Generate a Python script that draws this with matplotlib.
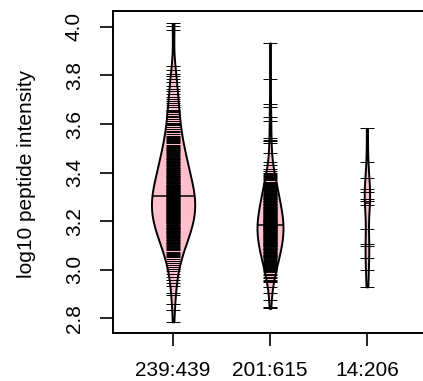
import numpy as np
import matplotlib
matplotlib.use('Agg')
import matplotlib.pyplot as plt

plt.rcParams['font.family'] = ['Liberation Sans', 'DejaVu Sans']

# bean labels: "observed:total"
labels = ['239:439', '201:615', '14:206']
totals = [439, 615, 206]

# log10 peptide intensities
g1 = [4.014, 4.003, 3.987,
      3.838, 3.822, 3.806,
      3.797, 3.784, 3.771, 3.758,
      3.746, 3.737, 3.724, 3.713, 3.702,
      3.696, 3.688, 3.679, 3.668, 3.659, 3.652,
      3.648, 3.641, 3.633, 3.627, 3.619, 3.612, 3.606, 3.601,
      3.596, 3.588, 3.580, 3.572, 3.566, 3.559, 3.552,
      3.548, 3.543, 3.538, 3.534, 3.529, 3.524, 3.520, 3.515, 3.510, 3.506,
      3.502,
      3.498, 3.494, 3.491, 3.487, 3.484, 3.480, 3.476, 3.473, 3.469, 3.466,
      3.462, 3.458, 3.455, 3.451,
      3.448, 3.445, 3.442, 3.439, 3.436, 3.433, 3.430, 3.427, 3.424, 3.421,
      3.418, 3.415, 3.412, 3.409, 3.406, 3.403, 3.401,
      3.399, 3.396, 3.394, 3.391, 3.388, 3.386, 3.383, 3.380, 3.378, 3.375,
      3.372, 3.370, 3.367, 3.364, 3.362, 3.359, 3.356, 3.354, 3.351,
      3.349, 3.347, 3.345, 3.343, 3.341, 3.339, 3.337, 3.335, 3.333, 3.331,
      3.329, 3.327, 3.325, 3.323, 3.321, 3.319, 3.317, 3.315, 3.313, 3.311,
      3.309, 3.307, 3.305, 3.303, 3.301,
      3.299, 3.297, 3.295, 3.293, 3.291, 3.289, 3.287, 3.285, 3.283, 3.281,
      3.279, 3.277, 3.275, 3.273, 3.271, 3.269, 3.267, 3.265, 3.263, 3.261,
      3.259, 3.257, 3.255, 3.253, 3.252, 3.250,
      3.249, 3.247, 3.245, 3.243, 3.241, 3.239, 3.237, 3.235, 3.233, 3.231,
      3.229, 3.227, 3.225, 3.223, 3.221, 3.219, 3.217, 3.215, 3.213, 3.211,
      3.209, 3.207, 3.205, 3.203, 3.202, 3.200,
      3.198, 3.196, 3.193, 3.191, 3.188, 3.186, 3.183, 3.181, 3.178, 3.176,
      3.173, 3.171, 3.168, 3.166, 3.163, 3.161, 3.158, 3.156, 3.154, 3.152,
      3.150,
      3.148, 3.145, 3.142, 3.139, 3.136, 3.133, 3.130, 3.127, 3.124, 3.121,
      3.118, 3.115, 3.112, 3.109, 3.106, 3.103,
      3.098, 3.093, 3.089, 3.084, 3.080, 3.075, 3.071, 3.066, 3.062, 3.057,
      3.053,
      3.046, 3.038, 3.030, 3.021, 3.012, 3.004,
      2.994, 2.982, 2.971, 2.958,
      2.945, 2.933, 2.903,
      2.896, 2.859,
      2.834, 2.786]

g2 = [3.934, 3.785, 3.681, 3.672, 3.628, 3.614, 3.541, 3.536, 3.531, 3.522,
      3.481, 3.442, 3.431, 3.414, 3.405,
      3.398, 3.394, 3.390, 3.386, 3.381, 3.377, 3.372, 3.368, 3.363, 3.359,
      3.355, 3.351,
      3.348, 3.345, 3.342, 3.339, 3.336, 3.333, 3.330, 3.327, 3.324, 3.321,
      3.317, 3.314, 3.311, 3.308, 3.305, 3.302,
      3.299, 3.297, 3.294, 3.292, 3.290, 3.287, 3.285, 3.282, 3.280, 3.277,
      3.275, 3.272, 3.270, 3.267, 3.265, 3.263, 3.260, 3.258, 3.256, 3.253,
      3.251,
      3.249, 3.247, 3.245, 3.243, 3.241, 3.239, 3.237, 3.235, 3.233, 3.231,
      3.229, 3.227, 3.225, 3.223, 3.221, 3.219, 3.217, 3.215, 3.213, 3.211,
      3.209, 3.207, 3.205, 3.203, 3.202, 3.200,
      3.199, 3.197, 3.196, 3.194, 3.193, 3.191, 3.190, 3.188, 3.187, 3.185,
      3.184, 3.182, 3.181, 3.179, 3.178, 3.176, 3.175, 3.173, 3.172, 3.170,
      3.169, 3.167, 3.166, 3.164, 3.163, 3.161, 3.160, 3.158, 3.157, 3.155,
      3.153, 3.151,
      3.149, 3.147, 3.145, 3.143, 3.142, 3.140, 3.138, 3.136, 3.134, 3.132,
      3.131, 3.129, 3.127, 3.125, 3.123, 3.121, 3.120, 3.118, 3.116, 3.114,
      3.112, 3.110, 3.109, 3.107, 3.105, 3.104, 3.102, 3.100,
      3.098, 3.096, 3.094, 3.091, 3.089, 3.087, 3.084, 3.082, 3.080, 3.077,
      3.075, 3.073, 3.070, 3.068, 3.066, 3.063, 3.061, 3.059, 3.057, 3.055,
      3.053, 3.051,
      3.048, 3.045, 3.041, 3.038, 3.035, 3.031, 3.028, 3.024, 3.021, 3.018,
      3.014, 3.011, 3.008, 3.004, 3.001,
      2.996, 2.990, 2.984, 2.978, 2.972, 2.966, 2.960, 2.955,
      2.948, 2.930, 2.903, 2.875, 2.848, 2.841]

g3 = [3.582, 3.442, 3.377, 3.331, 3.320, 3.290, 3.285, 3.265, 3.170,
      3.105, 3.100, 3.050, 3.000, 2.930]

groups = [g1, g2, g3]
yticks = [2.8, 3.0, 3.2, 3.4, 3.6, 3.8, 4.0]

bw = 0.065
fig = plt.figure(figsize=(4.23, 3.81), dpi=100)
ax = fig.add_axes([113 / 423, 48 / 381, 314 / 423, 322 / 381])

for i, vals in enumerate(groups):
    pos = i + 1
    v = np.array(vals)
    grid = np.linspace(v.min(), v.max(), 400)
    dens = np.exp(-0.5 * ((grid[:, None] - v[None, :]) / bw) ** 2).sum(axis=1)
    half = 0.41 * len(v) / totals[i]
    w = dens / dens.max() * half
    ax.fill_betweenx(grid, pos - w, pos + w, facecolor='pink',
                     edgecolor='black', linewidth=1.4, zorder=2)
    # bean lines, one per observation
    ax.hlines(v, pos - 0.068, pos + 0.068, colors='black', linewidth=0.7,
              zorder=3)
    med = np.median(v)
    wm = np.interp(med, grid, w)
    ax.hlines(med, pos - wm, pos + wm, colors='black', linewidth=1.1, zorder=4)

ax.set_xlim(0.38, 3.62)
ax.set_ylim(2.74, 4.065)
ax.set_xticks([1, 2, 3])
ax.set_xticklabels(labels, fontsize=15)
ax.set_yticks(yticks)
ax.set_yticklabels(['%.1f' % t for t in yticks], fontsize=15, rotation=90,
                   va='center')
ax.tick_params(axis='both', direction='out', length=9.5, width=1.2)
ax.tick_params(axis='x', pad=10.5)
ax.tick_params(axis='y', pad=11.5)
for s in ax.spines.values():
    s.set_linewidth(1.4)

fig.text(27 / 423, (381 - 174) / 381, 'log10 peptide intensity',
         rotation=90, ha='center', va='center', fontsize=15)

fig.savefig('out.png', dpi=100)
